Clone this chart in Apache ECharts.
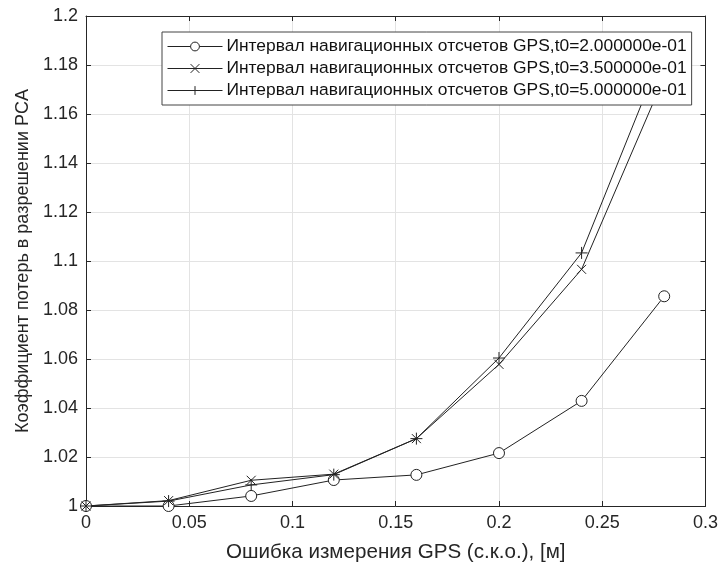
<!DOCTYPE html>
<html><head><meta charset="utf-8">
<script src="https://cdn.jsdelivr.net/npm/echarts@6/dist/echarts.min.js"></script>
<style>html,body{margin:0;padding:0;background:#fff}#c{width:721px;height:570px}</style>
</head><body><div id="c"></div>
<script>
var xValues = [0, 0.04, 0.08, 0.12, 0.16, 0.2, 0.24, 0.28];
var seriesNames = [
  'Интервал навигационных отсчетов GPS,t0=2.000000e-01',
  'Интервал навигационных отсчетов GPS,t0=3.500000e-01',
  'Интервал навигационных отсчетов GPS,t0=5.000000e-01'
];
var s1 = [1.0, 1.0, 1.0041, 1.0106, 1.0127, 1.0216, 1.0429, 1.0856];
var s2 = [1.0, 1.0022, 1.0105, 1.013, 1.0275, 1.0578, 1.0966, 1.175];
var s3 = [1.0, 1.0020, 1.0086, 1.0128, 1.0275, 1.0604, 1.1033, 1.187];
var xTitle = 'Ошибка измерения GPS (с.к.о.), [м]';
var yTitle = 'Коэффициент потерь в разрешении PCA';

var FONT = "'Liberation Sans Narrow', 'Liberation Sans', Arial, sans-serif";
var TXT = '#262626';
function pairs(v){ return xValues.map(function(x,i){return [x, v[i]];}); }
var symX = 'path://M0,0L10,10M10,0L0,10';
var symP = 'path://M5,0L5,10M0,5L10,5';
function mk(name, data, sym, size){
  return {
    name: name, type: 'line', data: pairs(data), symbol: sym, symbolSize: size,
    showAllSymbol: true,
    lineStyle: {color: '#222', width: 1},
    itemStyle: {color: sym === 'circle' ? '#fff' : 'none', borderColor: '#222', borderWidth: 1},
    emphasis: {disabled: true}, animation: false, z: 3
  };
}
var axisCommon = {
  axisLine: {show: true, onZero: false, lineStyle: {color: TXT, width: 1}},
  axisTick: {show: true, inside: true, length: 5, lineStyle: {color: TXT}},
};
var chart = echarts.init(document.getElementById('c'));
chart.setOption({
  backgroundColor: '#fff',
  textStyle: {fontFamily: FONT},
  grid: {left: 86, right: 14, top: 16, bottom: 64},
  legend: {
    orient: 'vertical', left: 162, top: 32,
    backgroundColor: '#fff', borderColor: '#444', borderWidth: 1,
    padding: [6, 5, 6, 5], itemGap: 5, itemWidth: 55, itemHeight: 11,
    lineStyle: {width: 1, color: '#222'},
    itemStyle: {borderWidth: 1, borderColor: '#222'},
    textStyle: {fontFamily: FONT, fontSize: 17.4, color: '#111', padding: [0,0,0,-1]},
    data: seriesNames
  },
  xAxis: [
    Object.assign({type: 'value', min: 0, max: 0.3, interval: 0.05,
      name: xTitle, nameLocation: 'middle', nameGap: 36,
      nameTextStyle: {fontFamily: FONT, fontSize: 20.6, color: TXT},
      axisLabel: {fontFamily: FONT, fontSize: 18, color: TXT, margin: 8},
      splitLine: {show: true, lineStyle: {color: '#e3e3e3', width: 1}}}, axisCommon),
    Object.assign({type: 'value', min: 0, max: 0.3, interval: 0.05, position: 'top',
      axisLabel: {show: false}, splitLine: {show: false}}, axisCommon)
  ],
  yAxis: [
    Object.assign({type: 'value', min: 1, max: 1.2, interval: 0.02,
      name: yTitle, nameLocation: 'middle', nameGap: 45, nameRotate: 90,
      nameTextStyle: {fontFamily: FONT, fontSize: 18, color: TXT},
      axisLabel: {fontFamily: FONT, fontSize: 18, color: TXT, margin: 8},
      splitLine: {show: true, lineStyle: {color: '#e3e3e3', width: 1}}}, axisCommon),
    Object.assign({type: 'value', min: 1, max: 1.2, interval: 0.02, position: 'right',
      axisLabel: {show: false}, splitLine: {show: false}}, axisCommon)
  ],
  series: [
    mk(seriesNames[0], s1, 'circle', 11),
    mk(seriesNames[1], s2, symX, 9),
    mk(seriesNames[2], s3, symP, 12)
  ]
});
</script></body></html>
